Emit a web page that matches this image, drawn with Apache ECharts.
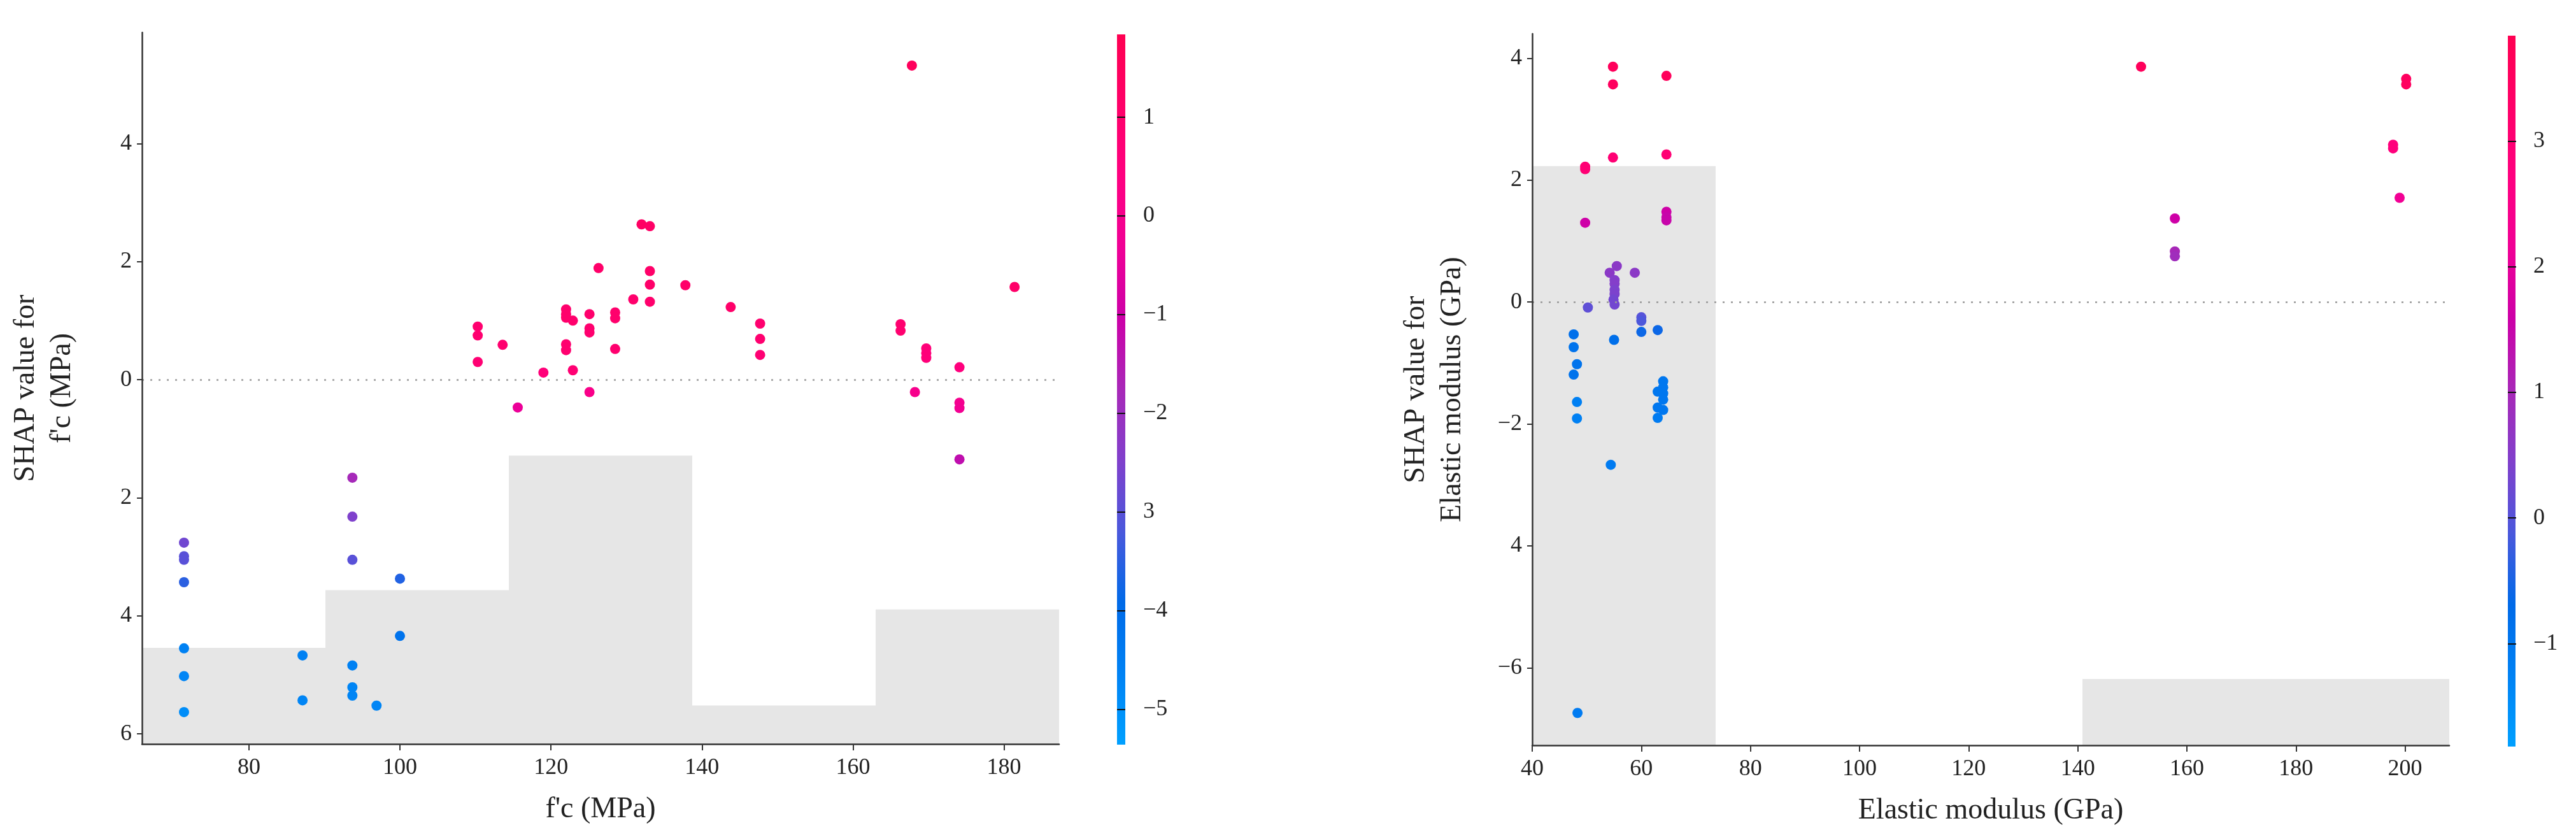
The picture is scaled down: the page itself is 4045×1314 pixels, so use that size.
<!DOCTYPE html>
<html>
<head>
<meta charset="utf-8">
<script src="https://cdn.jsdelivr.net/npm/echarts@6/dist/echarts.min.js"></script>
<style>html,body{margin:0;padding:0;background:#fff;}#c{width:4045px;height:1314px;}</style>
</head>
<body>
<div id="c"></div>
<script>
// ---------- Left panel: f'c ----------
const fcX = [110.3,110.3,110.3,113.6,115.6,119.0,122.0,122.0,122.0,122.0,122.0,122.9,122.9,125.1,125.1,125.1,125.1,126.3,128.5,128.5,128.5,130.9,132.0,133.1,133.1,133.1,133.1,137.8,143.8,147.7,147.7,147.7,167.8,166.3,166.3,168.2,169.7,169.7,169.7,174.1,174.1,174.1,174.1,181.4,71.4,71.4,71.4,71.4,71.4,71.4,71.4,93.7,93.7,93.7,93.7,93.7,93.7,87.1,87.1,96.9,100.0,100.0];
const fcShap = [0.90,0.75,0.30,0.59,-0.47,0.12,1.19,1.11,1.05,0.60,0.50,1.00,0.16,1.11,0.87,0.80,-0.21,1.89,1.14,1.04,0.52,1.36,2.63,2.60,1.84,1.61,1.32,1.60,1.23,0.95,0.69,0.42,5.32,0.94,0.83,-0.21,0.53,0.45,0.37,0.21,-0.39,-0.48,-1.35,1.57,-2.76,-2.99,-3.05,-3.43,-4.55,-5.02,-5.63,-1.66,-2.32,-3.05,-4.84,-5.21,-5.35,-4.67,-5.43,-5.52,-3.37,-4.34];
const fcColor = [0.9,0.9,0.8,0.9,-0.4,0.6,1.0,1.0,1.0,0.9,0.9,1.0,0.8,1.0,0.9,0.9,0.1,1.1,1.0,1.0,0.9,1.0,1.3,1.2,1.1,1.1,1.0,1.1,1.1,0.9,0.9,0.8,1.5,0.9,0.9,0.0,0.6,0.6,0.6,0.5,-0.1,-0.2,-1.3,1.1,-2.7,-3.0,-3.0,-3.5,-4.6,-4.7,-4.9,-1.8,-2.5,-3.0,-4.6,-4.7,-4.7,-4.6,-4.7,-4.7,-3.6,-4.2];
const fcHistEdges = [65.84,90.13,114.42,138.71,163.0,187.29];
const fcHistCounts = [5,8,15,2,7];
const fcHistTotal = 37;
const fcXTicks = [80,100,120,140,160,180];
const fcYTicks = [-6,-4,-2,0,2,4];
const fcYTickLabels = ['6','4','2','0','2','4'];
const fcCbTicks = [-5,-4,-3,-2,-1,0,1];
const fcCbLabels = ['\u22125','\u22124','3','\u22122','\u22121','0','1'];
const fcRange = {xmin:65.84,xmax:187.29,ymin:-6.17,ymax:5.88,cmin:-5.36,cmax:1.84};

// ---------- Right panel: Elastic modulus ----------
const emX = [54.8,54.8,54.8,64.6,64.6,49.7,49.7,49.7,64.6,64.6,64.6,55.5,54.2,58.8,55.1,55.1,55.1,55.1,54.9,55.1,50.2,60.0,60.0,60.0,63.0,55.0,47.6,47.6,48.2,47.6,48.2,48.2,64.0,64.0,64.0,64.0,63.0,64.0,63.0,63.0,54.4,48.3,151.6,200.2,200.2,197.8,197.8,199.0,157.8,157.8,157.8];
const emShap = [3.86,3.57,2.37,3.71,2.42,2.22,2.18,1.30,1.48,1.39,1.34,0.59,0.48,0.48,0.36,0.30,0.20,0.13,0.04,-0.04,-0.09,-0.25,-0.31,-0.49,-0.46,-0.62,-0.53,-0.74,-1.02,-1.19,-1.64,-1.91,-1.30,-1.40,-1.50,-1.60,-1.47,-1.77,-1.73,-1.90,-2.67,-6.74,3.86,3.66,3.57,2.58,2.52,1.71,1.37,0.83,0.75];
const emColor = [3.6,3.5,3.0,3.6,3.0,3.0,3.0,1.6,1.6,1.5,1.5,0.6,0.6,0.6,0.5,0.5,0.4,0.4,0.3,0.3,0.1,0.0,-0.1,-0.6,-0.6,-0.8,-0.8,-0.9,-0.9,-0.9,-1.2,-1.2,-1.0,-1.0,-1.0,-1.0,-1.0,-1.0,-1.0,-1.1,-1.1,-1.1,3.6,3.5,3.5,2.8,2.8,2.2,1.6,1.0,0.9];
const emHistEdges = [40,73.62,107.24,140.86,174.48,208.1];
const emHistCounts = [35,0,0,4,4];
const emHistTotal = 43;
const emXTicks = [40,60,80,100,120,140,160,180,200];
const emYTicks = [-6,-4,-2,0,2,4];
const emYTickLabels = ['\u22126','4','\u22122','0','2','4'];
const emCbTicks = [-1,0,1,2,3];
const emCbLabels = ['\u22121','0','1','2','3'];
const emRange = {xmin:40,xmax:208.1,ymin:-7.27,ymax:4.40,cmin:-1.82,cmax:3.84};

// colormap (blue -> purple -> red), evenly spaced
const cmap = ['#00a0ff','#0082f4','#006ae8','#4a58dc','#8040cc','#a828b8','#cc00a8','#f00096','#ff0080','#ff0068','#ff0052'];

const FONT = 'Liberation Serif';
const TXT = '#222';
const AX = '#333';

function zip3(a,b,c){return a.map((v,i)=>[v,b[i],c[i]]);}
function histData(edges,counts){return counts.map((c,i)=>[edges[i],edges[i+1],c]);}

function histRender(params, api){
  const p0 = api.coord([api.value(0), 0]);
  const p1 = api.coord([api.value(1), api.value(2)]);
  return {type:'rect', shape:{x:p0[0], y:p1[1], width:p1[0]-p0[0], height:p0[1]-p1[1]}, style:{fill:'#e6e6e6'}};
}
function cbRender(params, api){
  const p0 = api.coord([0, api.value(1)]);
  const p1 = api.coord([1, api.value(2)]);
  const stops = cmap.map((c,i)=>({offset:i/(cmap.length-1), color:c}));
  return {type:'rect', shape:{x:p0[0], y:p1[1], width:p1[0]-p0[0], height:p0[1]-p1[1]},
    style:{fill:new echarts.graphic.LinearGradient(0,1,0,0,stops)}};
}

function mainX(grid, r, ticks, name){
  return {gridIndex:grid, type:'value', min:r.xmin, max:r.xmax, z:10,
    name:name, nameLocation:'middle', nameGap:80,
    nameTextStyle:{fontFamily:FONT, fontSize:46, color:TXT},
    axisLine:{show:true, onZero:false, lineStyle:{color:AX, width:2.5}},
    axisTick:{show:true, length:10, customValues:ticks, lineStyle:{color:AX, width:2}},
    axisLabel:{customValues:ticks, margin:20, fontFamily:FONT, fontSize:36, color:TXT},
    splitLine:{show:false}};
}
function mainY(grid, r, ticks, labels, name){
  return {gridIndex:grid, type:'value', min:r.ymin, max:r.ymax, z:10,
    name:name, nameLocation:'middle', nameGap:97, nameRotate:90,
    nameTextStyle:{fontFamily:FONT, fontSize:46, color:TXT, lineHeight:57, align:'center'},
    axisLine:{show:true, onZero:false, lineStyle:{color:AX, width:2.5}},
    axisTick:{show:true, length:8, customValues:ticks, lineStyle:{color:AX, width:2}},
    axisLabel:{customValues:ticks, margin:16, fontFamily:FONT, fontSize:36, color:TXT,
      formatter:(v)=>{const i=ticks.findIndex(t=>Math.abs(t-v)<1e-6);return i>=0?labels[i]:'';}},
    splitLine:{show:false}};
}
function cbY(grid, r, ticks, labels){
  return {gridIndex:grid, type:'value', position:'right', min:r.cmin, max:r.cmax, z:10,
    axisLine:{show:false},
    axisTick:{show:true, length:13, customValues:ticks, lineStyle:{color:'#111', width:2}},
    axisLabel:{customValues:ticks, margin:28, fontFamily:FONT, fontSize:36, color:TXT,
      formatter:(v)=>{const i=ticks.findIndex(t=>Math.abs(t-v)<1e-6);return i>=0?labels[i]:'';}},
    splitLine:{show:false}};
}
function zeroLine(){
  return {silent:true, symbol:['none','none'], label:{show:false},
    lineStyle:{color:'#9a9a9a', type:[3,10], width:2.5}, data:[{yAxis:0}], animation:false};
}

const chart = echarts.init(document.getElementById('c'), null, {renderer:'canvas'});
chart.setOption({
  backgroundColor:'#ffffff',
  animation:false,
  grid:[
    {left:223, top:51, width:1440, height:1117},
    {left:2406, top:53, width:1440, height:1117},
    {left:1754, top:54, width:13, height:1115},
    {left:3938, top:56, width:12, height:1116}
  ],
  xAxis:[
    mainX(0, fcRange, fcXTicks, "f'c (MPa)"),
    mainX(1, emRange, emXTicks, 'Elastic modulus (GPa)'),
    {gridIndex:2, type:'value', min:0, max:1, show:false},
    {gridIndex:3, type:'value', min:0, max:1, show:false}
  ],
  yAxis:[
    mainY(0, fcRange, fcYTicks, fcYTickLabels, "SHAP value for\nf'c (MPa)"),
    {gridIndex:0, type:'value', min:0, max:fcHistTotal, show:false},
    mainY(1, emRange, emYTicks, emYTickLabels, 'SHAP value for\nElastic modulus (GPa)'),
    {gridIndex:1, type:'value', min:0, max:emHistTotal, show:false},
    cbY(2, fcRange, fcCbTicks, fcCbLabels),
    cbY(3, emRange, emCbTicks, emCbLabels)
  ],
  visualMap:[
    {type:'continuous', show:false, seriesIndex:1, dimension:2, min:fcRange.cmin, max:fcRange.cmax, inRange:{color:cmap}},
    {type:'continuous', show:false, seriesIndex:3, dimension:2, min:emRange.cmin, max:emRange.cmax, inRange:{color:cmap}}
  ],
  series:[
    {type:'custom', xAxisIndex:0, yAxisIndex:1, renderItem:histRender, data:histData(fcHistEdges,fcHistCounts), z:1, silent:true},
    {type:'scatter', xAxisIndex:0, yAxisIndex:0, data:zip3(fcX,fcShap,fcColor), symbol:'circle', symbolSize:16, z:3,
      itemStyle:{opacity:1}, markLine:zeroLine()},
    {type:'custom', xAxisIndex:1, yAxisIndex:3, renderItem:histRender, data:histData(emHistEdges,emHistCounts), z:1, silent:true},
    {type:'scatter', xAxisIndex:1, yAxisIndex:2, data:zip3(emX,emShap,emColor), symbol:'circle', symbolSize:16, z:3,
      itemStyle:{opacity:1}, markLine:zeroLine()},
    {type:'custom', xAxisIndex:2, yAxisIndex:4, renderItem:cbRender, data:[[0,fcRange.cmin,fcRange.cmax]], silent:true},
    {type:'custom', xAxisIndex:3, yAxisIndex:5, renderItem:cbRender, data:[[0,emRange.cmin,emRange.cmax]], silent:true}
  ]
});
</script>
</body>
</html>
